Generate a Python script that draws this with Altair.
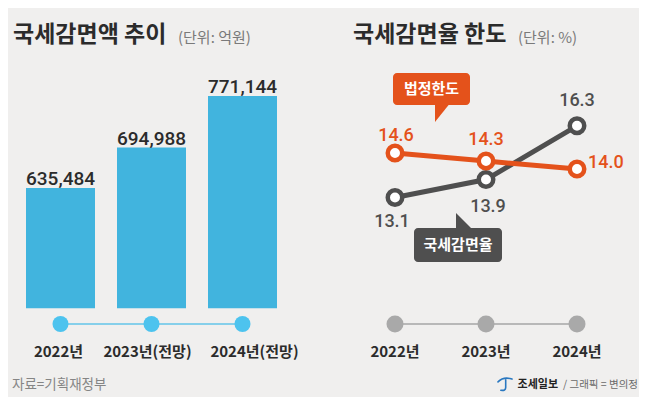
import altair as alt
import pandas as pd

# ---------------- data ----------------
years_left = ["2022년", "2023년(전망)", "2024년(전망)"]
amounts = [635484, 694988, 771144]

years_right = ["2022년", "2023년", "2024년"]
limit_rate = [14.6, 14.3, 14.0]      # 법정한도
actual_rate = [13.1, 13.9, 16.3]     # 국세감면율

FONT = "Noto Sans CJK KR"
NUMFONT = "Roboto"
BG = "#f0efee"
BLUE = "#41b4de"
BLUE_DOT = "#4dc3ee"
ORANGE = "#e4521b"
DARK = "#4f4f4f"
TXT = "#2b2b2b"

df_left = pd.DataFrame({"year": years_left, "amount": amounts})
df_limit = pd.DataFrame({"year": years_right, "value": limit_rate})
df_actual = pd.DataFrame({"year": years_right, "value": actual_rate})
df_years = pd.DataFrame({"year": years_right})


def label(text, x, y, size, color, weight="normal", align="left", font=FONT):
    return alt.Chart(pd.DataFrame({"t": [text]})).mark_text(
        font=font, fontSize=size, color=color, fontWeight=weight,
        align=align, baseline="middle"
    ).encode(x=alt.value(x), y=alt.value(y), text="t:N")


def symbol(path, cx, cy, size, color, filled=True, stroke_width=0):
    if filled:
        mk = alt.Chart(pd.DataFrame({"p": [0]})).mark_point(
            shape=path, size=size, filled=True, fill=color, opacity=1, strokeWidth=0)
    else:
        mk = alt.Chart(pd.DataFrame({"p": [0]})).mark_point(
            shape=path, size=size, filled=False, stroke=color, opacity=1,
            strokeWidth=stroke_width, strokeCap="round")
    return mk.encode(x=alt.value(cx), y=alt.value(cy))


def box(x1, x2, y1, y2, color):
    return alt.Chart(pd.DataFrame({"p": [0]})).mark_rect(
        color=color, cornerRadius=4
    ).encode(x=alt.value(x1), x2=alt.value(x2), y=alt.value(y1), y2=alt.value(y2))


# ---------------- left panel ----------------
xl = alt.X("year:N", sort=years_left, axis=None,
           scale=alt.Scale(range=[7, 280], paddingInner=0.2418, paddingOuter=0.1209))
yl = alt.Y("amount:Q", axis=None, scale=alt.Scale(domain=[327000, 901000]))

lbase = alt.Chart(df_left).encode(x=xl)
bars = lbase.mark_bar(color=BLUE).encode(y=yl, y2=alt.datum(458000))
bar_labels = lbase.mark_text(
    font=NUMFONT, fontSize=19, fontWeight=500, color=TXT, dy=-3, baseline="alphabetic"
).encode(y=yl, text=alt.Text("amount:Q", format=","))
l_line = lbase.mark_line(color="#86cfea", strokeWidth=2).encode(y=alt.value(316))
l_dots = lbase.mark_circle(size=256, color=BLUE_DOT, opacity=1).encode(y=alt.value(316))
l_years = [
    lbase.transform_filter(alt.datum.year == yr).mark_text(
        font=FONT, fontSize=15, fontWeight="bold", color=TXT, baseline="middle", dx=dx
    ).encode(y=alt.value(344), text="year:N")
    for yr, dx in zip(years_left, [-2, -4, 12])
]

left = alt.layer(
    label("국세감면액 추이", 5, 27, 23, TXT, "bold"),
    label("(단위: 억원)", 170, 30, 15, "#7a7a7a"),
    bars, bar_labels, l_line, l_dots, *l_years,
    label("자료=기획재정부", 4, 377, 13.5, "#858585"),
).properties(width=322, height=389)

# ---------------- right panel ----------------
xr = alt.X("year:N", sort=years_right, axis=None,
           scale=alt.Scale(type="point", range=[65, 247], padding=0))

rbase = alt.Chart(df_years).encode(x=xr)
r_line = rbase.mark_line(color="#b8b8b8", strokeWidth=2).encode(y=alt.value(316))
r_dots = rbase.mark_circle(size=289, color="#a9a9a9", opacity=1).encode(y=alt.value(316))
r_years = rbase.mark_text(
    font=FONT, fontSize=15, fontWeight="bold", color=TXT, baseline="middle"
).encode(y=alt.value(344), text="year:N")


def series(df, color, domain, offsets):
    y = alt.Y("value:Q", axis=None, scale=alt.Scale(domain=domain))
    b = alt.Chart(df).encode(x=xr, y=y)
    line = b.mark_line(color=color, strokeWidth=5)
    pts = b.mark_point(shape="circle", filled=True, fill="white", stroke=color,
                       strokeWidth=4.5, size=210, opacity=1)
    texts = []
    for yr, (dx, dy, align) in zip(years_right, offsets):
        texts.append(
            b.transform_filter(alt.datum.year == yr).mark_text(
                font=NUMFONT, fontSize=18, fontWeight=500, color=color,
                dx=dx, dy=dy, align=align, baseline="middle"
            ).encode(text=alt.Text("value:Q", format=".1f"))
        )
    return alt.layer(line, pts, *texts)


gray_series = series(df_actual, DARK, [4.19, 21.56],
                     [(-3, 25, "center"), (2, 27, "center"), (0, -25, "center")])
orange_series = series(df_limit, ORANGE, [5.45, 20.04],
                       [(1, -17, "center"), (0, -21, "center"), (11, -6, "left")])

right = alt.layer(
    label("국세감면율 한도", 23, 27, 23, TXT, "bold"),
    label("(단위: %)", 188, 30, 15, "#7a7a7a"),
    r_line, r_dots, r_years,
    gray_series, orange_series,
    # callout: 법정한도
    box(63, 140, 65, 97, ORANGE),
    symbol("M-1,-1L0.6,-1L-1,1Z", 113.5, 105.5, 289, ORANGE),
    label("법정한도", 101.5, 81, 15, "white", "bold", "center"),
    # callout: 국세감면율
    box(84, 172, 220, 254, DARK),
    symbol("M-1,-1L-1,1L1,1Z", 133.5, 212.5, 225, DARK),
    label("국세감면율", 128, 237, 15, "white", "bold", "center"),
    # credit
    symbol("M-1,-0.3Q-0.2,-1.1 1,-0.7M0.1,-0.8L0.1,0.5Q0.1,1 -0.6,0.9", 175, 376, 196,
           "#2a78c0", filled=False, stroke_width=1.6),
    label("조세일보", 228, 377, 11, "#222222", "bold", "right"),
    label("/ 그래픽 = 변의정", 308, 377, 10.5, "#6a6a6a", "normal", "right"),
).resolve_scale(y="independent").properties(width=309, height=389)

chart = alt.hconcat(left, right, spacing=0).properties(
    padding=0, background=BG
).configure_view(stroke=None)

chart.save("out.html", embed_options={"renderer": "svg", "actions": False})
